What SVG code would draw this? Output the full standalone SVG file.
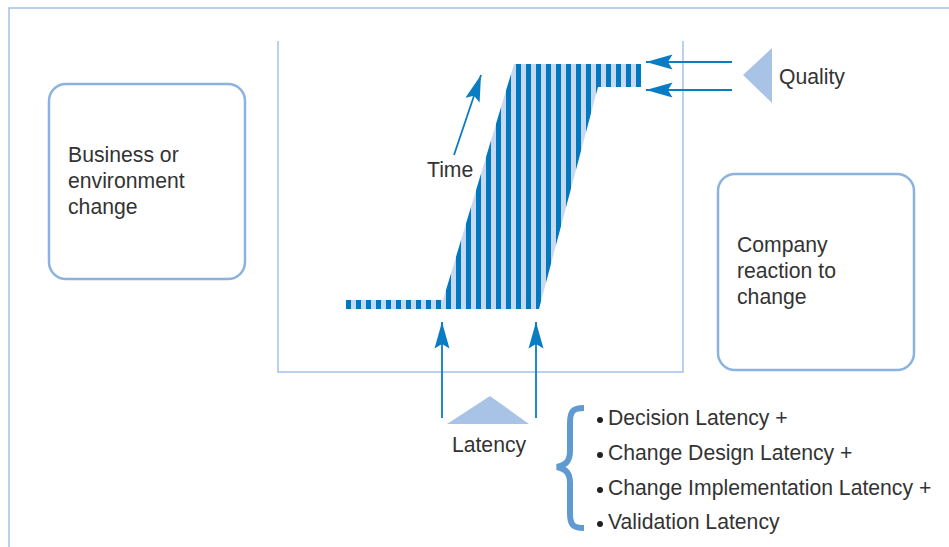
<svg xmlns="http://www.w3.org/2000/svg" width="949" height="547" viewBox="0 0 949 547">
  <style>
    text { font-family: "Liberation Sans", Arial, sans-serif; font-size: 21.2px; fill: #333333; }
    .frame { fill: none; stroke: #a3c2e8; stroke-width: 1.5; }
    .box { fill: #ffffff; stroke: #8cb2df; stroke-width: 2.5; }
    .arrow { fill: none; stroke: #0a7cc3; stroke-width: 1.8; marker-end: url(#ah); }
    .tri { fill: #a9c3e6; }
  </style>
  <defs>
    <marker id="ah" markerUnits="userSpaceOnUse" markerWidth="30" markerHeight="20" viewBox="-24 -8 26 16" refX="0" refY="0" orient="auto">
      <path d="M0,0 L-23,-6.5 L-19,0 L-23,6.5 Z" fill="#0a7cc3"/>
    </marker>
    <pattern id="stripes" patternUnits="userSpaceOnUse" x="346" y="0" width="10" height="20">
      <rect x="0" y="0" width="10" height="20" fill="#c6d9ef"/>
      <rect x="0" y="0" width="5" height="20" fill="#0079c1"/>
    </pattern>
  </defs>

  <!-- outer frame -->
  <path class="frame" d="M9,547 L9,8 L949,8"/>
  <!-- chart frame -->
  <path class="frame" d="M278,41 L278,372 L683,372 L683,41"/>

  <!-- striped curve -->
  <polygon points="346,300 443,300 514,64 641,64 641,87 598,87 539,309 346,309" fill="url(#stripes)"/>

  <g id="box-business">
    <rect class="box" x="49" y="84" width="196" height="195" rx="17"/>
    <text x="68" y="162">Business or</text>
    <text x="68" y="188">environment</text>
    <text x="68" y="214">change</text>
  </g>

  <g id="box-company">
    <rect class="box" x="718" y="174" width="196" height="196" rx="17"/>
    <text x="737" y="252">Company</text>
    <text x="737" y="278">reaction to</text>
    <text x="737" y="304">change</text>
  </g>

  <g id="quality">
    <polygon class="tri" points="743,75 772,48 772,103"/>
    <text x="779" y="84">Quality</text>
  </g>

  <g id="latency">
    <polygon class="tri" points="490,396 447,424 529,424"/>
    <text x="489" y="452" text-anchor="middle">Latency</text>
  </g>

  <g id="time">
    <text x="427" y="177">Time</text>
  </g>

  <g id="latency-list">
    <path d="M584,408 C573,408 570,411 570,423 L570,451 C570,461 566,465 557,467 C566,469 570,473 570,483 L570,513 C570,525 573,528 584,528" fill="none" stroke="#5f9ad3" stroke-width="6"/>
    <circle cx="600" cy="420" r="3" fill="#222"/>
    <circle cx="600" cy="455" r="3" fill="#222"/>
    <circle cx="600" cy="490" r="3" fill="#222"/>
    <circle cx="600" cy="524" r="3" fill="#222"/>
    <text x="608" y="425">Decision Latency +</text>
    <text x="608" y="459.5">Change Design Latency +</text>
    <text x="608" y="494.5">Change Implementation Latency +</text>
    <text x="608" y="529">Validation Latency</text>
  </g>

  <g id="connectors">
    <line class="arrow" x1="454" y1="155" x2="481" y2="75"/>
    <line class="arrow" x1="732" y1="62" x2="646" y2="62"/>
    <line class="arrow" x1="732" y1="90" x2="646" y2="90"/>
    <line class="arrow" x1="442" y1="418" x2="442" y2="322"/>
    <line class="arrow" x1="536" y1="418" x2="536" y2="322"/>
  </g>
</svg>
